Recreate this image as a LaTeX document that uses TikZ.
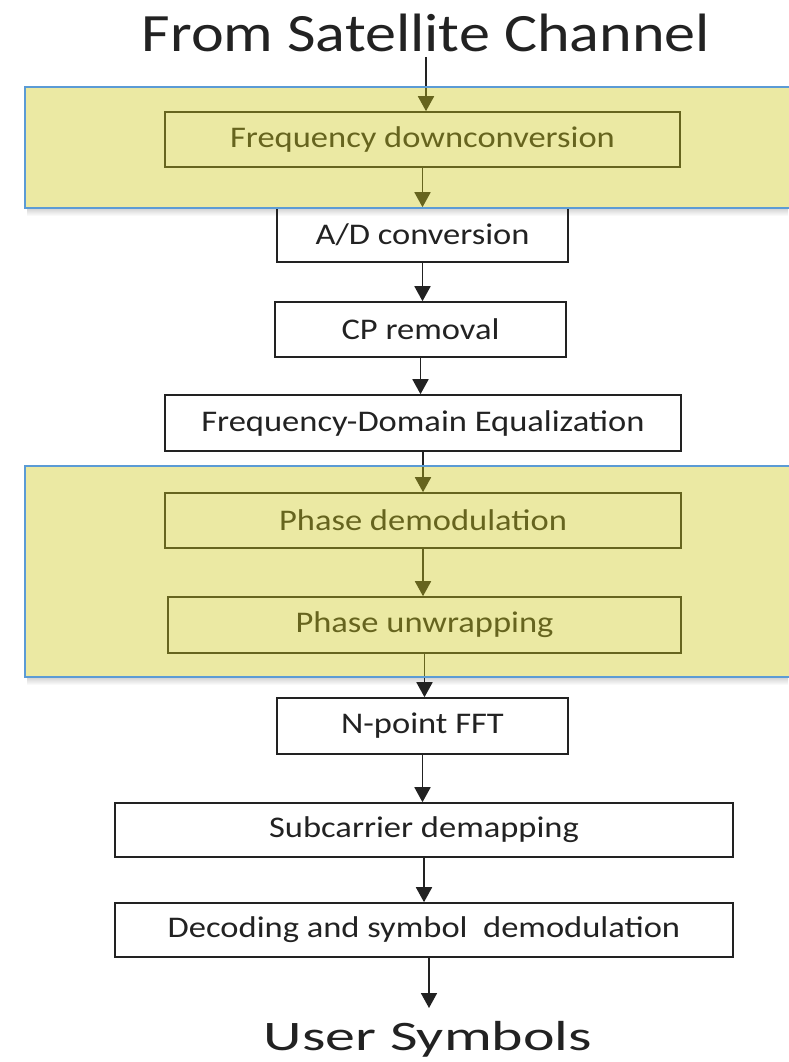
\documentclass[tikz,border=0pt]{standalone}
\usepackage{fontspec}
\setmainfont{Carlito}[FakeStretch=1.15]
\usetikzlibrary{arrows.meta}
\definecolor{bandyel}{RGB}{205,200,26}
\definecolor{bandblue}{RGB}{91,155,213}
\definecolor{ink}{RGB}{34,34,34}
\begin{document}
\begin{tikzpicture}[x=1pt,y=-1pt,
  blk/.style={draw=ink, line width=1.6pt, rectangle, inner sep=0pt, text=ink,
              font=\fontsize{30}{36}\selectfont},
  arr/.style={draw=ink, line width=1.8pt, -{Triangle[width=16pt,length=15pt]}},
  bigtext/.style={anchor=base, inner sep=0pt, text=ink},
  bandfill/.style={fill=bandyel, fill opacity=0.4},
  bandline/.style={draw=bandblue, line width=1.5pt},
  shadowstrip/.style={top color=black!16, bottom color=white, draw=none}
  ]
\useasboundingbox (0,0) rectangle (788,1062);

% soft shadows under the highlight bands
\shade[shadowstrip] (27,209) rectangle (788,216);
\shade[shadowstrip] (27,678) rectangle (788,685);

% texts at the ends
\node[bigtext, font=\fontsize{54}{60}\selectfont] (title) at (426,52) {From Satellite Channel};
\node[bigtext, font=\fontsize{42}{48}\selectfont] (user) at (428,1050) {\scalebox{1.24}[1]{User Symbols}};

% blocks
\node[blk, minimum width=515pt, minimum height=55pt] (fd)  at (422.5,139.5) {Frequency downconversion};
\node[blk, minimum width=291pt, minimum height=54pt] (ad)  at (422.5,235)   {A/D conversion};
\node[blk, minimum width=291pt, minimum height=55pt] (cp)  at (420.5,329.5) {CP removal};
\node[blk, minimum width=516pt, minimum height=56pt] (fde) at (423,423)     {Frequency-Domain Equalization};
\node[blk, minimum width=516pt, minimum height=55pt] (pd)  at (423,520.5)   {Phase demodulation};
\node[blk, minimum width=513pt, minimum height=56pt] (pu)  at (424.5,625)   {Phase unwrapping};
\node[blk, minimum width=291pt, minimum height=56pt] (fft) at (422.5,726)   {N-point FFT};
\node[blk, minimum width=618pt, minimum height=54pt] (sub) at (424,830)     {Subcarrier demapping};
\node[blk, minimum width=618pt, minimum height=54pt] (dec) at (424,930)     {Decoding and symbol\ \ demodulation};

\coordinate (uend) at (429,1008);

% connectors
\draw[arr] ([yshift=-5pt]title.base) -- (title.base |- fd.north);
\draw[arr] (fd.south)  -- (fd.south |- ad.north);
\draw[arr] (ad.south)  -- (ad.south |- cp.north);
\draw[arr] (cp.south)  -- (cp.south |- fde.north);
\draw[arr] (fde.south) -- (fde.south |- pd.north);
\draw[arr] (pd.south)  -- (pd.south |- pu.north);
\draw[arr] (pu.south)  -- (pu.south |- fft.north);
\draw[arr] (fft.south) -- (fft.south |- sub.north);
\draw[arr] (sub.south) -- (sub.south |- dec.north);
\draw[arr] (uend |- dec.south) -- (uend);

% translucent highlight bands
\fill[bandfill] (25,87) rectangle (792,208);
\fill[bandfill] (25,466) rectangle (792,677);
\draw[bandline] (795,87) -- (25,87) -- (25,208) -- (795,208);
\draw[bandline] (795,466) -- (25,466) -- (25,677) -- (795,677);
\end{tikzpicture}
\end{document}
